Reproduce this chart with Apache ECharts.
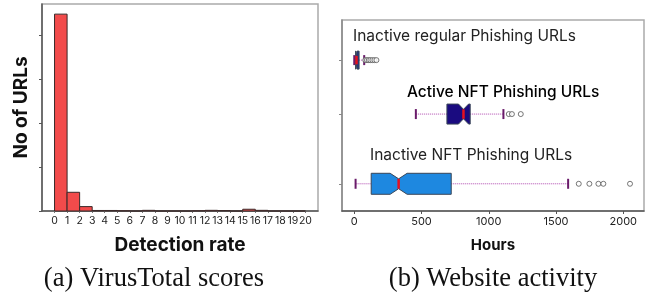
<!DOCTYPE html>
<html>
<head>
<meta charset="utf-8">
<script src="https://cdn.jsdelivr.net/npm/echarts@6/dist/echarts.min.js"></script>
<style>
  html, body { margin: 0; padding: 0; background: #fff; }
  #chart { width: 649px; height: 295px; }
</style>
</head>
<body>
<div id="chart"></div>
<script>
// (a) 检测率直方图，每个区间 [起点, 终点]
var rateTicks = [0, 1, 2, 3, 4, 5, 6, 7, 8, 9, 10, 11, 12, 13, 14, 15, 16, 17, 18, 19, 20];
var binCounts = [447, 42.5, 10, 1.2, 1.2, 0.5, 0, 1.5, 0, 0, 0, 0.5, 1.5, 1, 0, 4, 1.5, 0, 0, 0];
var countTicks = [0, 100, 200, 300, 400];

// (b) 网站存活时间箱线图
var groupNames = ['Inactive regular Phishing URLs', 'Active NFT Phishing URLs', 'Inactive NFT Phishing URLs'];
var rowPos = [0.84, 1.97, 3.43];
var whiskerLo = [0, 458, 10];
var q1 = [10, 689, 126];
var notchLo = [13, 775, 267];
var median = [17, 812, 330];
var notchHi = [21, 850, 393];
var q3 = [36, 862, 721];
var whiskerHi = [74, 1109, 1590];
var outliers = [
  [82, 95, 108, 120, 135, 150, 165],
  [1149, 1172, 1238],
  [1669, 1748, 1815, 1852, 2050]
];
var hourTicks = [0, 500, 1000, 1500, 2000];

var boxColors = ['#22357f', '#1a0b80', '#1e88e0'];
var boxHalf = [9, 10, 10.5];

var chart = echarts.init(document.getElementById('chart'));

var histData = binCounts.map(function (c, i) { return [i, i + 1, c]; });
var boxData = groupNames.map(function (n, i) {
  return [rowPos[i], whiskerLo[i], q1[i], notchLo[i], median[i], notchHi[i], q3[i], whiskerHi[i], i];
});
var outData = [];
outliers.forEach(function (arr, i) {
  arr.forEach(function (v) { outData.push([v, rowPos[i]]); });
});

function renderBar(params, api) {
  var p0 = api.coord([api.value(0), 0]);
  var p1 = api.coord([api.value(1), api.value(2)]);
  return {
    type: 'rect',
    shape: { x: p0[0], y: p1[1], width: p1[0] - p0[0], height: p0[1] - p1[1] },
    style: { fill: '#f24b4b', stroke: '#3a2a2a', lineWidth: 1 }
  };
}

function renderBox(params, api) {
  var y = api.value(0);
  var idx = api.value(8);
  function x(v) { return api.coord([v, y])[0]; }
  var cy = api.coord([0, y])[1];
  var h = boxHalf[idx];
  var inner = h * 0.47;
  var top = cy - h, bot = cy + h;
  var wl = x(api.value(1)), a = x(api.value(2)), nl = x(api.value(3)), m = x(api.value(4));
  var nh = x(api.value(5)), b = x(api.value(6)), wh = x(api.value(7));
  var dash = { stroke: '#b048b0', lineWidth: 1, lineDash: [1, 1] };
  var cap = { stroke: '#6a1b6a', lineWidth: 2 };
  return {
    type: 'group',
    children: [
      { type: 'line', shape: { x1: wl, y1: cy, x2: a, y2: cy }, style: dash },
      { type: 'line', shape: { x1: b, y1: cy, x2: wh, y2: cy }, style: dash },
      { type: 'line', shape: { x1: wl, y1: cy - 5, x2: wl, y2: cy + 5 }, style: cap },
      { type: 'line', shape: { x1: wh, y1: cy - 5, x2: wh, y2: cy + 5 }, style: cap },
      {
        type: 'polygon',
        shape: { points: [[a, top], [nl, top], [m, cy - inner], [nh, top], [b, top], [b, bot], [nh, bot], [m, cy + inner], [nl, bot], [a, bot]] },
        style: { fill: boxColors[idx], stroke: '#3a4658', lineWidth: 1 }
      },
      { type: 'line', shape: { x1: m, y1: cy - inner, x2: m, y2: cy + inner }, style: { stroke: '#e8101e', lineWidth: 2.5 } }
    ]
  };
}

var labelFont = 'Inter, Roboto, sans-serif';

chart.setOption({
  animation: false,
  grid: [
    { left: 42, right: 331, top: 4, bottom: 84, show: true, borderColor: '#aaa', borderWidth: 1.5 },
    { left: 342, right: 5, top: 20, bottom: 84, show: true, borderColor: '#aaa', borderWidth: 1.5 }
  ],
  xAxis: [
    {
      gridIndex: 0, type: 'value', min: -1, max: 21,
      name: 'Detection rate', nameLocation: 'middle', nameGap: 25,
      nameTextStyle: { fontFamily: labelFont, fontWeight: 'bold', fontSize: 19, color: '#111' },
      axisLine: { onZero: false, lineStyle: { color: '#555', width: 1.5 } },
      axisTick: { show: true, length: 2, customValues: rateTicks, lineStyle: { color: '#777' } },
      axisLabel: { customValues: rateTicks, fontFamily: labelFont, fontSize: 10.5, color: '#222', margin: 4 },
      splitLine: { show: false }
    },
    {
      gridIndex: 1, type: 'value', min: -91, max: 2154,
      name: 'Hours', nameLocation: 'middle', nameGap: 27,
      nameTextStyle: { fontFamily: labelFont, fontWeight: 'bold', fontSize: 15, color: '#111' },
      axisLine: { onZero: false, lineStyle: { color: '#555', width: 1.5 } },
      axisTick: { show: true, length: 3, customValues: hourTicks, lineStyle: { color: '#555' } },
      axisLabel: {
        customValues: hourTicks, fontFamily: labelFont, fontSize: 11, color: '#222', margin: 5,
        formatter: function (v) { return String(v); }
      },
      splitLine: { show: false }
    }
  ],
  yAxis: [
    {
      gridIndex: 0, type: 'value', min: 0, max: 470,
      name: 'No of URLs', nameLocation: 'middle', nameGap: 11,
      nameTextStyle: { fontFamily: labelFont, fontWeight: 'bold', fontSize: 19, color: '#111' },
      axisLine: { show: true, onZero: false, lineStyle: { color: '#555', width: 1.5 } },
      axisTick: { show: true, length: 3, customValues: countTicks, lineStyle: { color: '#555' } },
      axisLabel: { show: false },
      splitLine: { show: false }
    },
    {
      gridIndex: 1, type: 'value', min: 0, max: 4, inverse: true,
      axisLine: { show: true, onZero: false, lineStyle: { color: '#888', width: 1.5 } },
      axisTick: { show: true, length: 3, customValues: rowPos, lineStyle: { color: '#888' } },
      axisLabel: { show: false },
      splitLine: { show: false }
    }
  ],
  series: [
    { type: 'custom', xAxisIndex: 0, yAxisIndex: 0, renderItem: renderBar, data: histData, encode: { x: [0, 1], y: 2 } },
    { type: 'custom', xAxisIndex: 1, yAxisIndex: 1, renderItem: renderBox, data: boxData, encode: { y: 0, x: [1, 7] } },
    {
      type: 'scatter', xAxisIndex: 1, yAxisIndex: 1, data: outData,
      symbol: 'circle', symbolSize: 5, z: 5,
      itemStyle: { color: '#ffffff', borderColor: '#555555', borderWidth: 1 }
    }
  ],
  graphic: [
    { type: 'text', x: 353, y: 36, style: { text: groupNames[0], font: '15.5px ' + labelFont, fill: '#222', align: 'left', verticalAlign: 'middle' } },
    { type: 'text', x: 407, y: 92, style: { text: groupNames[1], font: '500 15.5px ' + labelFont, fill: '#000', align: 'left', verticalAlign: 'middle' } },
    { type: 'text', x: 370, y: 155, style: { text: groupNames[2], font: '15.5px ' + labelFont, fill: '#222', align: 'left', verticalAlign: 'middle' } },
    { type: 'text', x: 154, y: 279, style: { text: '(a) VirusTotal scores', font: '26.5px "Liberation Serif", serif', fill: '#111', align: 'center', verticalAlign: 'middle' } },
    { type: 'text', x: 493, y: 279, style: { text: '(b) Website activity', font: '26.5px "Liberation Serif", serif', fill: '#111', align: 'center', verticalAlign: 'middle' } }
  ]
});
</script>
</body>
</html>
